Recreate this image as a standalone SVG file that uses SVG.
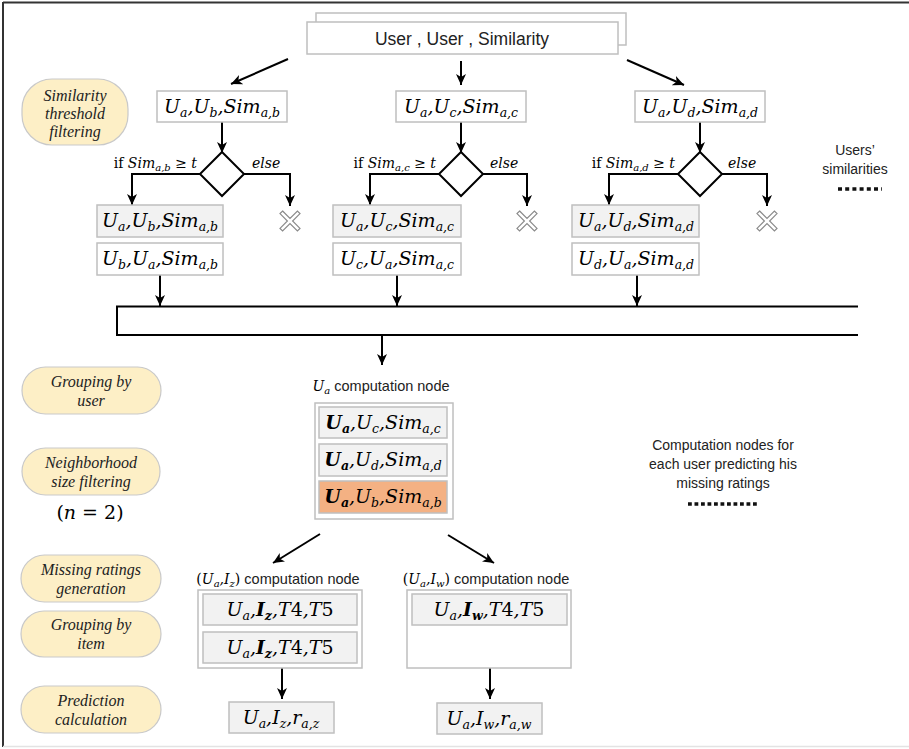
<svg xmlns="http://www.w3.org/2000/svg" width="909" height="749" viewBox="0 0 909 749">
<style>
.m{font-family:"DejaVu Serif",serif;font-style:italic;font-size:19px;fill:#000}
.sb{font-size:12.5px}
.b{font-weight:bold}
.up{font-style:normal}
.sans{font-family:"Liberation Sans",Arial,sans-serif;font-style:normal;fill:#222}
.lbl{font-family:"DejaVu Serif",serif;font-style:italic;font-size:14px;fill:#000}
.pill{fill:#fdefc6;stroke:#c9c9c9;stroke-width:1.2}
.pt{font-family:"Liberation Serif",serif;font-style:italic;font-size:16px;fill:#222;text-anchor:middle}
.gbox{fill:#f2f2f2;stroke:#bfbfbf;stroke-width:1.5}
.wbox{fill:#fff;stroke:#bfbfbf;stroke-width:1.5}
.obox{fill:#f4b183;stroke:#bfbfbf;stroke-width:1.5}
.ar{stroke:#000;stroke-width:2;fill:none;marker-end:url(#ah)}
.ln{stroke:#000;stroke-width:2;fill:none}
.dia{fill:#fff;stroke:#000;stroke-width:2}
.xm{fill:#fff;stroke:#8a8a8a;stroke-width:1.2}
</style>
<defs>
<marker id="ah" viewBox="0 0 12 12" refX="11" refY="6" markerWidth="12" markerHeight="12" markerUnits="userSpaceOnUse" orient="auto">
<path d="M0,1 L11,6 L0,11 L3,6 z" fill="#000"/>
</marker>
<path id="xs" class="xm" d="M-7.4,-10 L0,-2.6 L7.4,-10 L10,-7.4 L2.6,0 L10,7.4 L7.4,10 L0,2.6 L-7.4,10 L-10,7.4 L-2.6,0 L-10,-7.4 z"/>
</defs>

<g id="frame">
<line x1="3" y1="2.5" x2="909" y2="2.5" stroke="#333" stroke-width="2"/>
<line x1="3" y1="2" x2="3" y2="747" stroke="#333" stroke-width="2"/>
<line x1="3" y1="746.5" x2="909" y2="746.5" stroke="#e3e3e3" stroke-width="1.5"/>
</g>

<g id="source">
<rect x="316" y="13" width="310" height="32" class="wbox"/>
<rect x="307" y="22" width="311" height="32" class="wbox"/>
<text x="462" y="45" class="sans" font-size="17.5" text-anchor="middle" fill="#111">User , User , Similarity</text>
</g>

<g id="labels-left">
<g id="pill-sim"><rect x="22" y="79" width="106" height="66" rx="30" ry="30" class="pill"/>
<text class="pt" x="75" y="101">Similarity</text><text class="pt" x="75" y="119">threshold</text><text class="pt" x="75" y="137">filtering</text></g>
<g id="pill-guser"><rect x="22" y="367" width="139" height="47" rx="23.5" class="pill"/>
<text class="pt" x="91" y="387">Grouping by</text><text class="pt" x="91" y="406">user</text></g>
<g id="pill-neigh"><rect x="22" y="448" width="138" height="47" rx="23.5" class="pill"/>
<text class="pt" x="91" y="468">Neighborhood</text><text class="pt" x="91" y="487">size filtering</text></g>
<text x="90" y="519" class="m up" font-size="16" text-anchor="middle">(<tspan font-style="italic">n</tspan> = 2)</text>
<g id="pill-miss"><rect x="21" y="555" width="140" height="47" rx="23.5" class="pill"/>
<text class="pt" x="91" y="575">Missing ratings</text><text class="pt" x="91" y="594">generation</text></g>
<g id="pill-gitem"><rect x="21" y="611" width="140" height="46" rx="23" class="pill"/>
<text class="pt" x="91" y="630">Grouping by</text><text class="pt" x="91" y="649">item</text></g>
<g id="pill-pred"><rect x="21" y="686" width="140" height="47" rx="23.5" class="pill"/>
<text class="pt" x="91" y="706">Prediction</text><text class="pt" x="91" y="725">calculation</text></g>
</g>

<g id="connectors">
<line x1="288" y1="59" x2="231" y2="84" class="ar"/>
<line x1="461" y1="61" x2="461" y2="85" class="ar"/>
<line x1="627" y1="60" x2="684" y2="85" class="ar"/>
<!-- col1 -->
<line x1="222" y1="122" x2="222" y2="153" class="ar"/>
<polyline points="200,174 132,174 132,205" class="ar"/>
<polyline points="244,174 290,174 290,206" class="ar"/>
<line x1="160" y1="275" x2="160" y2="306" class="ar"/>
<!-- col2 -->
<line x1="461" y1="122" x2="461" y2="153" class="ar"/>
<polyline points="439,174 370,174 370,205" class="ar"/>
<polyline points="483,174 527,174 527,206" class="ar"/>
<line x1="397" y1="275" x2="397" y2="306" class="ar"/>
<!-- col3 -->
<line x1="700" y1="122" x2="700" y2="153" class="ar"/>
<polyline points="678,174 609,174 609,205" class="ar"/>
<polyline points="722,174 767,174 767,206" class="ar"/>
<line x1="637" y1="275" x2="637" y2="306" class="ar"/>
<!-- bus -->
<path d="M858,306.5 H117 V335 H858" class="ln"/>
<line x1="382" y1="335" x2="382" y2="365" class="ar"/>
<line x1="320" y1="534" x2="273" y2="563" class="ar"/>
<line x1="448" y1="535" x2="494" y2="563" class="ar"/>
<line x1="282" y1="668" x2="282" y2="699" class="ar"/>
<line x1="490" y1="668" x2="490" y2="699" class="ar"/>
</g>

<g id="col1">
<rect x="157" y="91" width="130" height="31" class="wbox"/>
<text class="m" x="222" y="113" text-anchor="middle">U<tspan class="sb" dy="4">a</tspan><tspan dy="-4">,U</tspan><tspan class="sb" dy="4">b</tspan><tspan dy="-4">,Sim</tspan><tspan class="sb" dy="4">a,b</tspan></text>
<polygon points="222,152 244,174 222,196 200,174" class="dia"/>
<text class="lbl" x="197" y="168" text-anchor="end"><tspan class="up">if </tspan>Sim<tspan font-size="10" dy="3">a,b</tspan><tspan dy="-3"> ≥ t</tspan></text>
<text class="lbl" x="252" y="168">else</text>
<use href="#xs" x="290" y="221"/>
<rect x="97" y="205" width="126" height="32" class="gbox"/>
<text class="m" x="160" y="227" text-anchor="middle">U<tspan class="sb" dy="4">a</tspan><tspan dy="-4">,U</tspan><tspan class="sb" dy="4">b</tspan><tspan dy="-4">,Sim</tspan><tspan class="sb" dy="4">a,b</tspan></text>
<rect x="97" y="243" width="126" height="32" class="wbox"/>
<text class="m" x="160" y="265" text-anchor="middle">U<tspan class="sb" dy="4">b</tspan><tspan dy="-4">,U</tspan><tspan class="sb" dy="4">a</tspan><tspan dy="-4">,Sim</tspan><tspan class="sb" dy="4">a,b</tspan></text>
</g>

<g id="col2">
<rect x="396" y="91" width="130" height="31" class="wbox"/>
<text class="m" x="461" y="113" text-anchor="middle">U<tspan class="sb" dy="4">a</tspan><tspan dy="-4">,U</tspan><tspan class="sb" dy="4">c</tspan><tspan dy="-4">,Sim</tspan><tspan class="sb" dy="4">a,c</tspan></text>
<polygon points="461,152 483,174 461,196 439,174" class="dia"/>
<text class="lbl" x="436" y="168" text-anchor="end"><tspan class="up">if </tspan>Sim<tspan font-size="10" dy="3">a,c</tspan><tspan dy="-3"> ≥ t</tspan></text>
<text class="lbl" x="490" y="168">else</text>
<use href="#xs" x="527" y="221"/>
<rect x="333" y="205" width="128" height="32" class="gbox"/>
<text class="m" x="397" y="227" text-anchor="middle">U<tspan class="sb" dy="4">a</tspan><tspan dy="-4">,U</tspan><tspan class="sb" dy="4">c</tspan><tspan dy="-4">,Sim</tspan><tspan class="sb" dy="4">a,c</tspan></text>
<rect x="333" y="243" width="128" height="32" class="wbox"/>
<text class="m" x="397" y="265" text-anchor="middle">U<tspan class="sb" dy="4">c</tspan><tspan dy="-4">,U</tspan><tspan class="sb" dy="4">a</tspan><tspan dy="-4">,Sim</tspan><tspan class="sb" dy="4">a,c</tspan></text>
</g>

<g id="col3">
<rect x="635" y="91" width="130" height="31" class="wbox"/>
<text class="m" x="700" y="113" text-anchor="middle">U<tspan class="sb" dy="4">a</tspan><tspan dy="-4">,U</tspan><tspan class="sb" dy="4">d</tspan><tspan dy="-4">,Sim</tspan><tspan class="sb" dy="4">a,d</tspan></text>
<polygon points="700,152 722,174 700,196 678,174" class="dia"/>
<text class="lbl" x="675" y="168" text-anchor="end"><tspan class="up">if </tspan>Sim<tspan font-size="10" dy="3">a,d</tspan><tspan dy="-3"> ≥ t</tspan></text>
<text class="lbl" x="728" y="168">else</text>
<use href="#xs" x="767" y="221"/>
<rect x="572" y="205" width="127" height="32" class="gbox"/>
<text class="m" x="636" y="227" text-anchor="middle">U<tspan class="sb" dy="4">a</tspan><tspan dy="-4">,U</tspan><tspan class="sb" dy="4">d</tspan><tspan dy="-4">,Sim</tspan><tspan class="sb" dy="4">a,d</tspan></text>
<rect x="572" y="243" width="127" height="32" class="wbox"/>
<text class="m" x="636" y="265" text-anchor="middle">U<tspan class="sb" dy="4">d</tspan><tspan dy="-4">,U</tspan><tspan class="sb" dy="4">a</tspan><tspan dy="-4">,Sim</tspan><tspan class="sb" dy="4">a,d</tspan></text>
</g>

<g id="users-similarities">
<text class="sans" font-size="14" x="855" y="155" text-anchor="middle">Users’</text>
<text class="sans" font-size="14" x="855" y="174" text-anchor="middle">similarities</text>
<line x1="838" y1="189" x2="882" y2="189" stroke="#111" stroke-width="3.5" stroke-dasharray="4 3.2"/>
</g>

<g id="ua-node">
<text class="lbl" x="381" y="391" text-anchor="middle" font-size="15">U<tspan font-size="10" dy="3">a</tspan><tspan class="sans" dy="-3" font-size="14.5"> computation node</tspan></text>
<rect x="315" y="403" width="138" height="116" class="wbox"/>
<rect x="319" y="407" width="128" height="31" class="gbox"/>
<text class="m" x="383" y="429" text-anchor="middle"><tspan class="b">U</tspan><tspan class="sb b" dy="4">a</tspan><tspan dy="-4">,U</tspan><tspan class="sb" dy="4">c</tspan><tspan dy="-4">,Sim</tspan><tspan class="sb" dy="4">a,c</tspan></text>
<rect x="319" y="444" width="128" height="32" class="gbox"/>
<text class="m" x="383" y="466" text-anchor="middle"><tspan class="b">U</tspan><tspan class="sb b" dy="4">a</tspan><tspan dy="-4">,U</tspan><tspan class="sb" dy="4">d</tspan><tspan dy="-4">,Sim</tspan><tspan class="sb" dy="4">a,d</tspan></text>
<rect x="319" y="481" width="128" height="32" class="obox"/>
<text class="m" x="383" y="503" text-anchor="middle"><tspan class="b">U</tspan><tspan class="sb b" dy="4">a</tspan><tspan dy="-4">,U</tspan><tspan class="sb" dy="4">b</tspan><tspan dy="-4">,Sim</tspan><tspan class="sb" dy="4">a,b</tspan></text>
</g>

<g id="compnodes-note">
<text class="sans" font-size="14" x="723" y="450" text-anchor="middle">Computation nodes for</text>
<text class="sans" font-size="14" x="723" y="469" text-anchor="middle">each user predicting his</text>
<text class="sans" font-size="14" x="723" y="488" text-anchor="middle">missing ratings</text>
<line x1="688" y1="504" x2="759" y2="504" stroke="#111" stroke-width="3.5" stroke-dasharray="3.8 2.7"/>
</g>

<g id="iz-node">
<text class="lbl" x="278" y="584" text-anchor="middle" font-size="14.5"><tspan class="up">(</tspan>U<tspan font-size="10" dy="3">a</tspan><tspan dy="-3">,I</tspan><tspan font-size="10" dy="3">z</tspan><tspan class="up" dy="-3">)</tspan><tspan class="sans" font-size="14.5"> computation node</tspan></text>
<rect x="198" y="590" width="164" height="78" class="wbox"/>
<rect x="203" y="594" width="154" height="31" class="gbox"/>
<text class="m" x="280" y="616" text-anchor="middle">U<tspan class="sb" dy="4">a</tspan><tspan dy="-4">,</tspan><tspan class="b">I</tspan><tspan class="sb b" dy="4">z</tspan><tspan dy="-4">,T<tspan class="up">4</tspan>,T<tspan class="up">5</tspan></tspan></text>
<rect x="203" y="632" width="154" height="31" class="gbox"/>
<text class="m" x="280" y="654" text-anchor="middle">U<tspan class="sb" dy="4">a</tspan><tspan dy="-4">,</tspan><tspan class="b">I</tspan><tspan class="sb b" dy="4">z</tspan><tspan dy="-4">,T<tspan class="up">4</tspan>,T<tspan class="up">5</tspan></tspan></text>
</g>

<g id="iw-node">
<text class="lbl" x="486" y="584" text-anchor="middle" font-size="14.5"><tspan class="up">(</tspan>U<tspan font-size="10" dy="3">a</tspan><tspan dy="-3">,I</tspan><tspan font-size="10" dy="3">w</tspan><tspan class="up" dy="-3">)</tspan><tspan class="sans" font-size="14.5"> computation node</tspan></text>
<rect x="407" y="590" width="164" height="78" class="wbox"/>
<rect x="412" y="594" width="155" height="31" class="gbox"/>
<text class="m" x="489" y="616" text-anchor="middle">U<tspan class="sb" dy="4">a</tspan><tspan dy="-4">,</tspan><tspan class="b">I</tspan><tspan class="sb b" dy="4">w</tspan><tspan dy="-4">,T<tspan class="up">4</tspan>,T<tspan class="up">5</tspan></tspan></text>
</g>

<g id="rz">
<rect x="229" y="702" width="105" height="31" class="gbox"/>
<text class="m" x="281" y="724" text-anchor="middle">U<tspan class="sb" dy="4">a</tspan><tspan dy="-4">,I</tspan><tspan class="sb" dy="4">z</tspan><tspan dy="-4">,r</tspan><tspan class="sb" dy="4">a,z</tspan></text>
</g>
<g id="rw">
<rect x="437" y="703" width="105" height="31" class="gbox"/>
<text class="m" x="489" y="725" text-anchor="middle">U<tspan class="sb" dy="4">a</tspan><tspan dy="-4">,I</tspan><tspan class="sb" dy="4">w</tspan><tspan dy="-4">,r</tspan><tspan class="sb" dy="4">a,w</tspan></text>
</g>
</svg>
